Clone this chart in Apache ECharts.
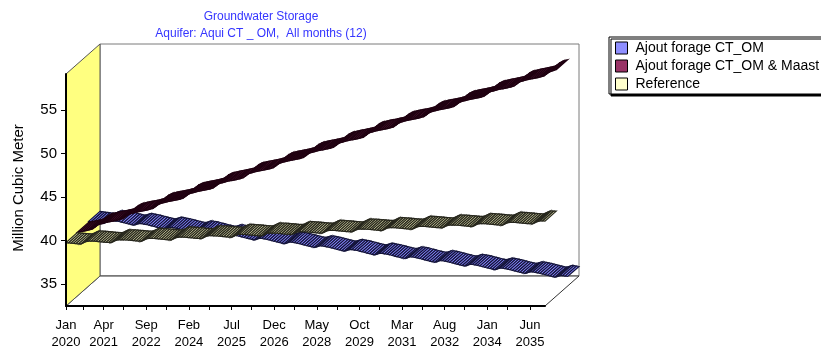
<!DOCTYPE html>
<html><head><meta charset="utf-8">
<script src="https://cdn.jsdelivr.net/npm/echarts@6/dist/echarts.min.js"></script>
<style>html,body{margin:0;padding:0;background:#fff}#c{width:821px;height:351px}</style>
</head><body><div id="c"></div>
<script>
// ---------- data ----------
const monthNames = ['Jan','Feb','Mar','Apr','May','Jun','Jul','Aug','Sep','Oct','Nov','Dec'];
const years = [2020,2021,2022,2023,2024,2025,2026,2027,2028,2029,2030,2031,2032,2033,2034,2035];
const labelIndices = [0,15,32,49,66,83,100,117,134,151,168,185];
const tickIndices = [0,7,15,23,32,40,49,57,66,74,83,91,100,108,117,125,134,142,151,159,168,176,185];
const yTicks = [35,40,45,50,55];
const yMin = 32.5, yMax = 59.1;
const seriesNames = ['Ajout forage CT_OM','Ajout forage CT_OM & Maast','Reference'];

// Ajout forage CT_OM (monthly, Jan 2020 - Dec 2035)
const ctOm = [
39.91,39.87,39.83,39.79,39.75,39.72,39.70,39.80,39.93,39.97,39.96,39.94,
39.91,39.83,39.76,39.68,39.61,39.54,39.49,39.55,39.65,39.65,39.60,39.55,
39.48,39.40,39.33,39.25,39.18,39.11,39.06,39.12,39.22,39.22,39.17,39.12,
39.06,38.98,38.91,38.83,38.76,38.69,38.64,38.70,38.80,38.80,38.75,38.70,
38.63,38.55,38.48,38.40,38.33,38.26,38.21,38.27,38.37,38.37,38.32,38.27,
38.21,38.13,38.06,37.98,37.91,37.84,37.79,37.85,37.95,37.95,37.90,37.85,
37.78,37.70,37.63,37.55,37.48,37.41,37.36,37.42,37.52,37.52,37.47,37.42,
37.35,37.27,37.20,37.12,37.05,36.98,36.93,36.99,37.09,37.09,37.04,36.99,
36.93,36.85,36.78,36.70,36.63,36.56,36.51,36.57,36.67,36.67,36.62,36.57,
36.50,36.42,36.35,36.27,36.20,36.13,36.08,36.14,36.24,36.24,36.19,36.14,
36.08,36.00,35.93,35.85,35.78,35.71,35.66,35.72,35.82,35.82,35.77,35.72,
35.65,35.57,35.50,35.42,35.35,35.28,35.23,35.29,35.39,35.39,35.34,35.29,
35.22,35.14,35.07,34.99,34.92,34.85,34.80,34.86,34.96,34.96,34.91,34.86,
34.80,34.72,34.65,34.57,34.50,34.43,34.38,34.44,34.54,34.54,34.49,34.44,
34.37,34.29,34.22,34.14,34.07,34.00,33.95,34.01,34.11,34.11,34.06,34.01,
33.95,33.87,33.80,33.72,33.65,33.58,33.53,33.59,33.69,33.69,33.64,33.59
];
// Ajout forage CT_OM & Maast
const ctOmMaast = [
39.80,39.86,39.91,39.97,40.03,40.10,40.17,40.37,40.60,40.74,40.82,40.90,
40.97,41.03,41.08,41.14,41.20,41.27,41.34,41.54,41.77,41.91,41.99,42.07,
42.14,42.20,42.25,42.31,42.37,42.44,42.51,42.71,42.94,43.08,43.16,43.24,
43.31,43.37,43.42,43.48,43.54,43.61,43.68,43.88,44.11,44.25,44.33,44.41,
44.48,44.54,44.59,44.65,44.71,44.78,44.85,45.05,45.28,45.42,45.50,45.58,
45.65,45.71,45.76,45.82,45.88,45.95,46.02,46.22,46.45,46.59,46.67,46.75,
46.81,46.87,46.92,46.98,47.04,47.11,47.18,47.38,47.61,47.75,47.83,47.91,
47.98,48.04,48.09,48.15,48.21,48.28,48.35,48.55,48.78,48.92,49.00,49.08,
49.15,49.21,49.26,49.32,49.38,49.45,49.52,49.72,49.95,50.09,50.17,50.25,
50.32,50.38,50.43,50.49,50.55,50.62,50.69,50.89,51.12,51.26,51.34,51.42,
51.49,51.55,51.60,51.66,51.72,51.79,51.86,52.06,52.29,52.43,52.51,52.59,
52.66,52.72,52.77,52.83,52.89,52.96,53.03,53.23,53.46,53.60,53.68,53.76,
53.83,53.89,53.94,54.00,54.06,54.13,54.20,54.40,54.63,54.77,54.85,54.93,
55.00,55.06,55.11,55.17,55.23,55.30,55.37,55.57,55.80,55.94,56.02,56.10,
56.17,56.23,56.28,56.34,56.40,56.47,56.54,56.74,56.97,57.11,57.19,57.27,
57.34,57.40,57.45,57.51,57.57,57.64,57.71,57.91,58.14,58.28,58.36,58.44
];
// Reference
const reference = [
39.76,39.73,39.71,39.68,39.65,39.63,39.63,39.74,39.88,39.94,39.94,39.93,
39.91,39.88,39.86,39.83,39.80,39.78,39.78,39.89,40.03,40.09,40.09,40.08,
40.07,40.04,40.02,39.99,39.96,39.94,39.94,40.05,40.19,40.25,40.25,40.24,
40.22,40.19,40.17,40.14,40.11,40.09,40.09,40.20,40.34,40.40,40.40,40.39,
40.37,40.34,40.32,40.29,40.26,40.24,40.24,40.35,40.49,40.55,40.55,40.54,
40.53,40.50,40.48,40.45,40.42,40.40,40.40,40.51,40.65,40.71,40.71,40.70,
40.68,40.65,40.63,40.60,40.57,40.55,40.55,40.66,40.80,40.86,40.86,40.85,
40.84,40.81,40.79,40.76,40.73,40.71,40.71,40.82,40.96,41.02,41.02,41.01,
40.99,40.96,40.94,40.91,40.88,40.86,40.86,40.97,41.11,41.17,41.17,41.16,
41.14,41.11,41.09,41.06,41.03,41.01,41.01,41.12,41.26,41.32,41.32,41.31,
41.30,41.27,41.25,41.22,41.19,41.17,41.17,41.28,41.42,41.48,41.48,41.47,
41.45,41.42,41.40,41.37,41.34,41.32,41.32,41.43,41.57,41.63,41.63,41.62,
41.60,41.57,41.55,41.52,41.49,41.47,41.47,41.58,41.72,41.78,41.78,41.77,
41.76,41.73,41.71,41.68,41.65,41.63,41.63,41.74,41.88,41.94,41.94,41.93,
41.91,41.88,41.86,41.83,41.80,41.78,41.78,41.89,42.03,42.09,42.09,42.08,
42.06,42.03,42.01,41.98,41.95,41.93,41.93,42.04,42.18,42.24,42.24,42.23
];

// ---------- chart ----------
const FONT = '"Liberation Sans", Arial, sans-serif';
const categories = [];
years.forEach(y => monthNames.forEach(m => categories.push(m + ' ' + y)));
const N = categories.length;
const DX = 34, DY = -30;      // 3D depth offset
const SLOTS = 3;

const legendColors = ['#8f8fff', '#993366', '#ffffcc'];
const ribbonFill   = ['#8888ff', '#9a3a6a', '#dcdcac'];
const ribbonStroke = ['#14143a', '#1e0010', '#26261c'];

function ribbonRender(values, slot, k) {
  return function (params, api) {
    const i = params.dataIndex;
    if (i >= values.length - 1) return null;
    const a = api.coord([i, values[i]]);
    const b = api.coord([i + 1, values[i + 1]]);
    const f0 = slot / SLOTS, f1 = (slot + 1) / SLOTS;
    return {
      type: 'polygon',
      shape: { points: [
        [a[0] + DX * f0, a[1] + DY * f0],
        [b[0] + DX * f0, b[1] + DY * f0],
        [b[0] + DX * f1, b[1] + DY * f1],
        [a[0] + DX * f1, a[1] + DY * f1]
      ] },
      style: { fill: ribbonFill[k], stroke: ribbonStroke[k], lineWidth: 1.15 }
    };
  };
}

function frameRender(params, api) {
  const bl = api.coord([0, yMin]);
  const tr = api.coord([N - 1, yMax]);
  const tl = [bl[0], tr[1]], br = [tr[0], bl[1]];
  const sh = p => [p[0] + DX, p[1] + DY];
  return {
    type: 'group',
    children: [
      { type: 'polygon', shape: { points: [sh(tl), sh(tr), sh(br), sh(bl)] },
        style: { fill: '#fff', stroke: '#7a7a7a', lineWidth: 1 } },
      { type: 'polygon', shape: { points: [bl, br, sh(br), sh(bl)] },
        style: { fill: '#fff', stroke: '#333', lineWidth: 1 } },
      { type: 'polygon', shape: { points: [tl, sh(tl), sh(bl), bl] },
        style: { fill: '#ffff80', stroke: '#555', lineWidth: 1 } }
    ]
  };
}

const seriesData = [ctOm, ctOmMaast, reference];
const slots = [2, 1, 0];

const series = [{
  type: 'custom', name: 'frame', renderItem: frameRender, data: [[0, yMin]],
  encode: { x: 0, y: 1 }, clip: false, z: 1, silent: true
}];
seriesData.forEach((vals, k) => {
  series.push({
    type: 'custom', name: seriesNames[k],
    renderItem: ribbonRender(vals, slots[k], k),
    data: vals.map((v, i) => [i, v]),
    encode: { x: 0, y: 1 }, clip: false, z: 2 + k, silent: true,
    itemStyle: { color: legendColors[k] }
  });
});

const chart = echarts.init(document.getElementById('c'), null, { renderer: 'canvas' });
chart.setOption({
  animation: false,
  backgroundColor: '#fff',
  textStyle: { fontFamily: FONT },
  grid: { left: 66, top: 74, width: 479, height: 234, containLabel: false },
  xAxis: {
    type: 'category', data: categories, boundaryGap: false, z: 10,
    axisLine: { lineStyle: { color: '#000', width: 2 } },
    axisTick: { length: 4, lineStyle: { color: '#000' },
      interval: (idx) => tickIndices.includes(idx) },
    axisLabel: {
      interval: (idx) => labelIndices.includes(idx),
      formatter: v => v.replace(' ', '\n'),
      color: '#000', fontSize: 13, lineHeight: 17, margin: 11, fontFamily: FONT
    },
    splitLine: { show: false }
  },
  yAxis: {
    type: 'value', min: yMin, max: yMax, z: 10,
    axisLine: { show: true, lineStyle: { color: '#000', width: 2 } },
    axisTick: { show: true, length: 5, lineStyle: { color: '#000' }, customValues: yTicks },
    axisLabel: { customValues: yTicks, color: '#000', fontSize: 15, margin: 9, fontFamily: FONT },
    splitLine: { show: false }
  },
  legend: {
    orient: 'vertical', left: 609, top: 37,
    data: seriesNames.map((n, k) => ({ name: n, icon: 'rect',
      itemStyle: { color: legendColors[k], borderColor: '#000', borderWidth: 1 } })),
    itemWidth: 12, itemHeight: 12, itemGap: 4,
    textStyle: { fontSize: 14, color: '#000', fontFamily: FONT, lineHeight: 13, padding: [0, 0, 0, 3] },
    borderColor: '#000', borderWidth: 1, padding: [4, 4, 3, 6],
    backgroundColor: '#fff',
    shadowColor: '#000', shadowOffsetX: 2, shadowOffsetY: 2, shadowBlur: 0,
    selectedMode: false
  },
  graphic: [
    { type: 'text', x: 261, y: 17, style: { text: 'Groundwater Storage', fill: '#3535ff',
      font: '12px ' + FONT, textAlign: 'center', textVerticalAlign: 'middle' } },
    { type: 'text', x: 261, y: 33.5, style: { text: 'Aquifer: Aqui CT _ OM,  All months (12)', fill: '#3535ff',
      font: '12px ' + FONT, textAlign: 'center', textVerticalAlign: 'middle' } },
    { type: 'text', x: 19, y: 188, rotation: Math.PI / 2, style: { text: 'Million Cubic Meter', fill: '#000',
      font: '15px ' + FONT, textAlign: 'center', textVerticalAlign: 'middle' } }
  ],
  series: series
});
</script>
</body></html>
